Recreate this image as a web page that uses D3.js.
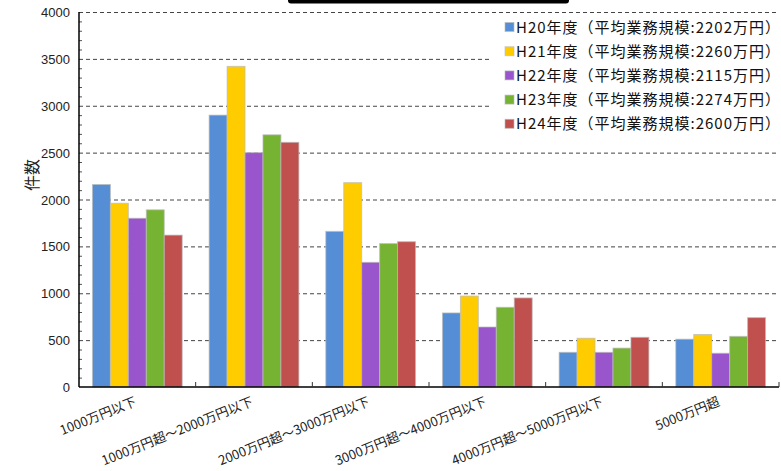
<!DOCTYPE html>
<html>
<head>
<meta charset="utf-8">
<script src="https://cdn.jsdelivr.net/npm/d3@7"></script>
<style>
  body { margin: 0; background: #fff; }
  svg { display: block; }
  text { font-family: "Liberation Sans", Arial, sans-serif; }
  .jp { font-family: "Noto Sans CJK JP", sans-serif; }
</style>
</head>
<body>
<svg width="781" height="471"></svg>
<script>
// categories (x axis) and series
const categories = ["1000万円以下", "1000万円超～2000万円以下", "2000万円超～3000万円以下",
                    "3000万円超～4000万円以下", "4000万円超～5000万円以下", "5000万円超"];
const seriesNames = ["H20年度（平均業務規模:2202万円）", "H21年度（平均業務規模:2260万円）",
                     "H22年度（平均業務規模:2115万円）", "H23年度（平均業務規模:2274万円）",
                     "H24年度（平均業務規模:2600万円）"];
const colors = ["#558ed5", "#ffcc00", "#9955cc", "#77b333", "#c0504d"];

// values per series, one per category
const h20 = [2160, 2900, 1660, 790, 370, 510];
const h21 = [1960, 3420, 2180, 970, 520, 560];
const h22 = [1800, 2500, 1330, 640, 370, 360];
const h23 = [1890, 2690, 1530, 850, 415, 540];
const h24 = [1620, 2610, 1550, 950, 530, 740];
const seriesValues = [h20, h21, h22, h23, h24];

const yTicks = [0, 500, 1000, 1500, 2000, 2500, 3000, 3500, 4000];

const svg = d3.select("svg");
const plotLeft = 79, plotRight = 779, plotTop = 12, plotBottom = 387;

const x = d3.scaleBand().domain(d3.range(categories.length)).range([plotLeft, plotRight]);
const xSub = d3.scaleBand().domain(d3.range(seriesNames.length))
    .range([0, x.bandwidth()]).paddingOuter(0.75);
const y = d3.scaleLinear().domain([0, 4000]).range([plotBottom, plotTop]);

// clipped title box at the top
svg.append("rect")
    .attr("x", 288).attr("y", -12).attr("width", 281).attr("height", 15.5)
    .attr("rx", 3).attr("fill", "#000");

// grid lines
svg.append("g").selectAll("line")
    .data(yTicks.filter(d => d > 0))
    .enter().append("line")
    .attr("x1", plotLeft).attr("x2", plotRight)
    .attr("y1", d => y(d) + 0.5).attr("y2", d => y(d) + 0.5)
    .attr("stroke", "#444").attr("stroke-width", 1)
    .attr("stroke-dasharray", "4,3");

// minor ticks every 100
svg.append("g").selectAll("line")
    .data(d3.range(100, 4000, 100).filter(d => d % 500 !== 0))
    .enter().append("line")
    .attr("x1", plotLeft).attr("x2", plotLeft + 3)
    .attr("y1", d => y(d) + 0.5).attr("y2", d => y(d) + 0.5)
    .attr("stroke", "#555").attr("stroke-width", 1);

// bars
const groups = svg.append("g").selectAll("g")
    .data(seriesValues)
    .enter().append("g")
    .attr("fill", (d, i) => colors[i]);

groups.selectAll("rect")
    .data((vals, si) => vals.map((v, ci) => ({ v, ci, si })))
    .enter().append("rect")
    .attr("x", d => x(d.ci) + xSub(d.si))
    .attr("width", xSub.bandwidth())
    .attr("y", d => y(d.v))
    .attr("height", d => plotBottom - y(d.v))
    .attr("stroke", "#bbbbbb")
    .attr("stroke-opacity", 0.7)
    .attr("stroke-width", 1);

// axes lines
svg.append("line")
    .attr("x1", plotLeft).attr("x2", plotLeft).attr("y1", plotTop).attr("y2", plotBottom)
    .attr("stroke", "#000").attr("stroke-width", 1.5);
svg.append("line")
    .attr("x1", plotLeft).attr("x2", plotRight).attr("y1", plotBottom).attr("y2", plotBottom)
    .attr("stroke", "#000").attr("stroke-width", 1.5);

// category boundary ticks
svg.append("g").selectAll("line")
    .data(d3.range(1, categories.length + 1))
    .enter().append("line")
    .attr("x1", d => d === categories.length ? plotRight : x(d))
    .attr("x2", d => d === categories.length ? plotRight : x(d))
    .attr("y1", plotBottom).attr("y2", plotBottom - 5)
    .attr("stroke", "#333").attr("stroke-width", 1);

// y tick labels
svg.append("g").selectAll("text")
    .data(yTicks)
    .enter().append("text")
    .attr("x", 70).attr("y", d => y(d) + 5)
    .attr("text-anchor", "end")
    .attr("font-size", 13)
    .attr("fill", "#222")
    .text(d => d);

// y axis title
svg.append("text")
    .attr("class", "jp")
    .attr("transform", "translate(38,175) rotate(-90)")
    .attr("text-anchor", "middle")
    .attr("font-size", 16)
    .attr("fill", "#222")
    .text("件数");

// x labels (rotated)
svg.append("g").selectAll("text")
    .data(categories)
    .enter().append("text")
    .attr("class", "jp")
    .attr("transform", (d, i) => `translate(${x(i) + x.bandwidth() / 2},${405}) rotate(-22)`)
    .attr("text-anchor", "end")
    .attr("font-size", 13)
    .attr("fill", "#222")
    .text(d => d);

// legend
const legend = svg.append("g");
legend.append("rect")
    .attr("x", 492).attr("y", 14).attr("width", 286).attr("height", 126)
    .attr("fill", "#fff");
const item = legend.selectAll("g")
    .data(seriesNames)
    .enter().append("g")
    .attr("transform", (d, i) => `translate(505,${27 + i * 24.2})`);
item.append("rect")
    .attr("x", 0).attr("y", -4.5).attr("width", 9).attr("height", 9)
    .attr("fill", (d, i) => colors[i])
    .attr("stroke", "#bbb").attr("stroke-opacity", 0.6);
item.append("text")
    .attr("class", "jp")
    .attr("x", 11).attr("y", 5.5)
    .attr("font-size", 15)
    .attr("textLength", 264)
    .attr("lengthAdjust", "spacing")
    .attr("fill", "#111")
    .text(d => d);
</script>
</body>
</html>
